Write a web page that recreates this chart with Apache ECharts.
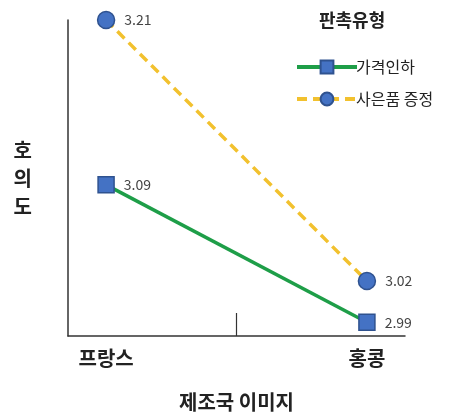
<!DOCTYPE html>
<html>
<head>
<meta charset="utf-8">
<script src="https://cdn.jsdelivr.net/npm/echarts@6/dist/echarts.min.js"></script>
<style>
  html, body { margin: 0; padding: 0; background: #fff; }
  #main { width: 453px; height: 418px; }
</style>
</head>
<body>
<div id="main"></div>
<script>
// 제조국 이미지 × 판촉유형
const categories = ['프랑스', '홍콩']
const priceCut = [3.09, 2.99] // 가격인하
const giftGive = [3.21, 3.02] // 사은품 증정
const seriesNames = ['가격인하', '사은품 증정']

const FONT = '"Noto Sans CJK KR", "Noto Sans", sans-serif'
const MARKER = { color: '#4472c4', borderColor: '#2f528f', borderWidth: 1.5 }

const toPoints = vals => vals.map((v, i) => [i, v])

const label = {
  show: true,
  position: 'right',
  distance: 9,
  fontSize: 14,
  color: '#444',
  fontFamily: FONT,
  formatter: p => p.value[1].toFixed(2)
}

const myChart = echarts.init(document.getElementById('main'))

const option = {
  animation: false,
  title: {
    text: '판촉유형',
    left: 314,
    top: 6,
    textStyle: { fontSize: 18, fontWeight: 'bold', color: '#222', fontFamily: FONT }
  },
  legend: {
    orient: 'vertical',
    left: 290,
    top: 54,
    itemGap: 16,
    itemWidth: 60,
    itemHeight: 16,
    lineStyle: { width: 4 },
    textStyle: { fontSize: 16, color: '#222', fontFamily: FONT, padding: [0, 0, 0, -6] },
    data: seriesNames
  },
  grid: { left: 68, right: 48, top: 20, bottom: 82 },
  xAxis: {
    type: 'value',
    min: -0.146,
    max: 1.146,
    splitLine: { show: false },
    axisLine: { show: true, onZero: false, lineStyle: { color: '#333', width: 1.5 } },
    axisTick: { show: true, inside: true, length: 23, customValues: [0.5], lineStyle: { color: '#333', width: 1.2 } },
    axisLabel: {
      customValues: [0, 1],
      margin: 12,
      fontSize: 20,
      fontWeight: 'bold',
      color: '#222',
      fontFamily: FONT,
      formatter: v => categories[Math.round(v)]
    },
    name: '제조국 이미지',
    nameLocation: 'middle',
    nameGap: 56,
    nameTextStyle: { fontSize: 20, fontWeight: 'bold', color: '#222', fontFamily: FONT }
  },
  yAxis: {
    type: 'value',
    min: 2.98,
    max: 3.21,
    splitLine: { show: false },
    axisLine: { show: true, onZero: false, lineStyle: { color: '#333', width: 1.5 } },
    axisTick: { show: false },
    axisLabel: { show: false },
    name: '호\n의\n도',
    nameLocation: 'middle',
    nameRotate: 0,
    nameGap: 36,
    nameTextStyle: { fontSize: 20, fontWeight: 'bold', lineHeight: 28, color: '#222', fontFamily: FONT }
  },
  series: [
    {
      name: seriesNames[0],
      type: 'line',
      data: toPoints(priceCut),
      symbol: 'rect',
      symbolSize: 16,
      itemStyle: MARKER,
      lineStyle: { color: '#1e9e48', width: 3.5 },
      label
    },
    {
      name: seriesNames[1],
      type: 'line',
      data: toPoints(giftGive),
      symbol: 'circle',
      symbolSize: 17,
      itemStyle: MARKER,
      lineStyle: { color: '#f2c12e', width: 3.5, type: [10, 6] },
      label
    }
  ]
}

myChart.setOption(option)
</script>
</body>
</html>
